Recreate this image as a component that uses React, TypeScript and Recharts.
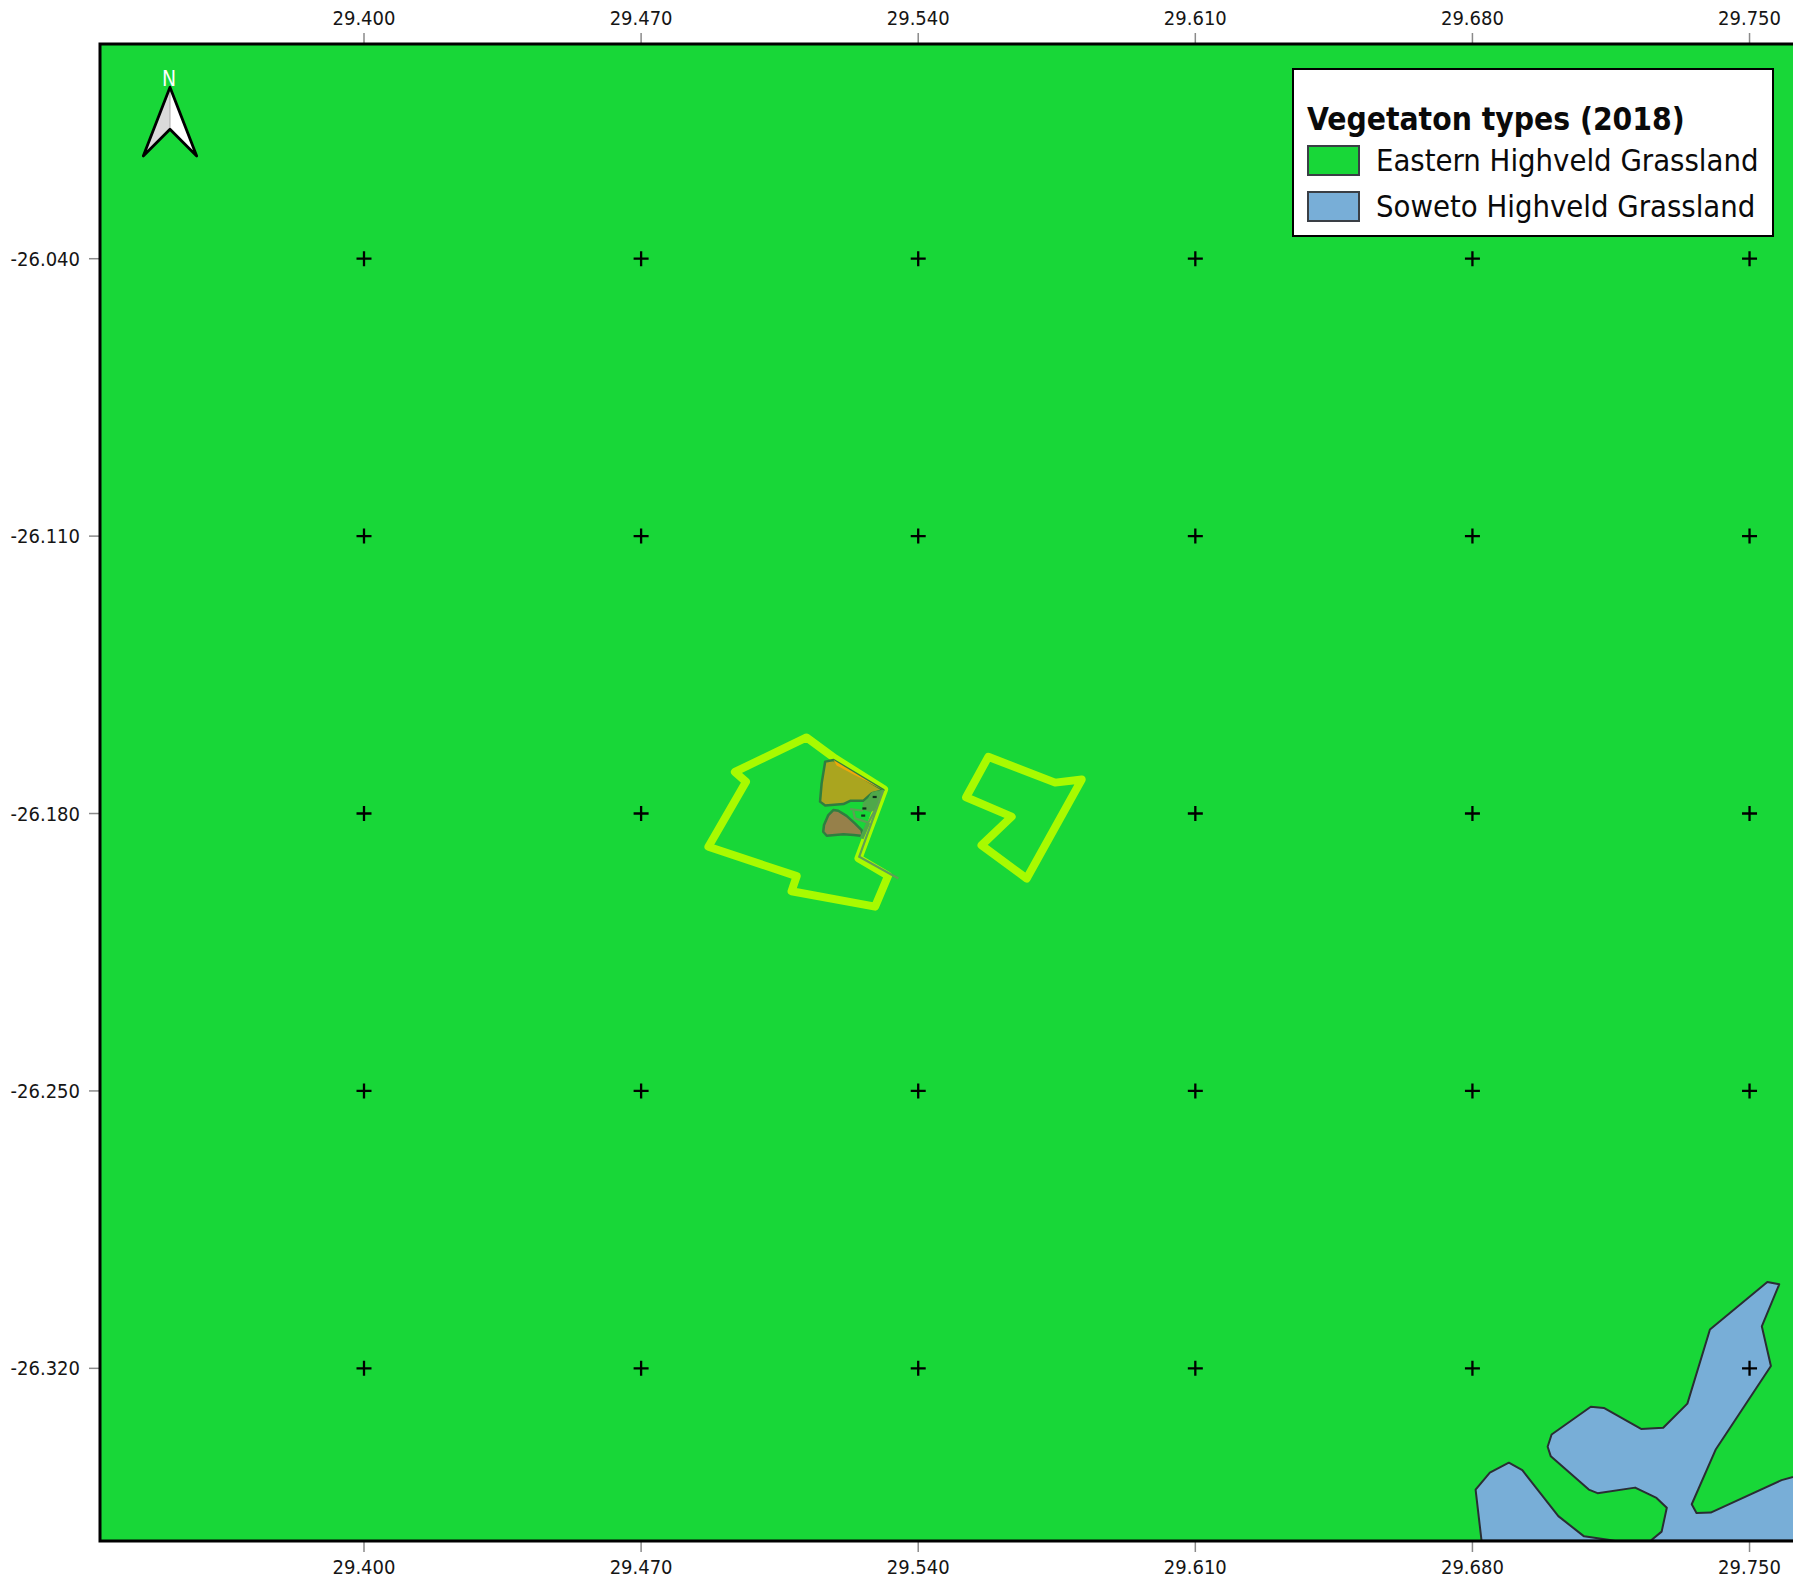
import React from 'react';
import { ScatterChart, Scatter, XAxis, YAxis, Legend } from 'recharts';

type Pt = { x: number; y: number };
const pts = (rows: number[][]): Pt[] => rows.map(([x, y]) => ({ x, y }));

const lonTicks = [29.4, 29.47, 29.54, 29.61, 29.68, 29.75];
const latTicks = [-26.04, -26.11, -26.18, -26.25, -26.32];
const lonDomain: [number, number] = [29.33331, 29.76098];
const latDomain: [number, number] = [-26.36357, -25.98582];

const legendTitle = 'Vegetaton types (2018)';
const legendNames = ['Eastern Highveld Grassland', 'Soweto Highveld Grassland'];
const legendColors = ['#18d738', '#78aed7'];

const eastern = pts([[29.33331, -25.98582], [29.76098, -25.98582], [29.76098, -26.36357], [29.33331, -26.36357]]);
const soweto = pts([
  [29.76098, -26.3635], [29.6823, -26.3635], [29.6808, -26.3506], [29.6844, -26.3463], [29.6892, -26.3438], [29.6926, -26.3457],
  [29.7017, -26.3573], [29.7082, -26.3624], [29.716, -26.3635], [29.725, -26.3635], [29.7278, -26.3612],
  [29.7291, -26.3552], [29.7265, -26.3527], [29.7211, -26.3501], [29.7116, -26.3515], [29.7094, -26.3506],
  [29.6998, -26.3422], [29.699, -26.3398], [29.7, -26.3367], [29.7099, -26.3297], [29.7132, -26.33],
  [29.7226, -26.3353], [29.7282, -26.335], [29.7343, -26.3289], [29.74, -26.3102], [29.7545, -26.2982],
  [29.7575, -26.2988], [29.7531, -26.3094], [29.7554, -26.3194], [29.7415, -26.3404], [29.7354, -26.3543],
  [29.7366, -26.3565], [29.7402, -26.3564], [29.7581, -26.3482], [29.76098, -26.3474],
]);
const farmWest = pts([
  [29.5118, -26.1608], [29.519, -26.1661], [29.5314, -26.1739], [29.5249, -26.1913], [29.5324, -26.1957],
  [29.5291, -26.2035], [29.508, -26.1996], [29.5093, -26.1958], [29.487, -26.1884], [29.4965, -26.172],
  [29.4937, -26.1695],
]);
const farmEast = pts([
  [29.5577, -26.1657], [29.5746, -26.1722], [29.5813, -26.1714], [29.5674, -26.1964], [29.556, -26.188],
  [29.5636, -26.1808], [29.5521, -26.1759],
]);
const olivePatch = pts([
  [29.5165, -26.1669], [29.5186, -26.1665], [29.5312, -26.1741], [29.5283, -26.1749], [29.5261, -26.1768],
  [29.5228, -26.1768], [29.5211, -26.1776], [29.5165, -26.178], [29.5152, -26.177], [29.5156, -26.1724],
]);
const orangeStrip = pts([[29.5186, -26.1665], [29.5312, -26.1741], [29.5194, -26.1679]]);
const brownPatch = pts([
  [29.5186, -26.1791], [29.5198, -26.1793], [29.5219, -26.1806], [29.524, -26.1825], [29.5257, -26.1842],
  [29.526, -26.1857], [29.5237, -26.1854], [29.5211, -26.1852], [29.5169, -26.1856], [29.516, -26.1846],
  [29.5162, -26.1829], [29.5173, -26.1804],
]);
const greenPatch = pts([
  [29.5274, -26.1762], [29.5283, -26.1747], [29.5312, -26.1741], [29.5299, -26.177], [29.5291, -26.1791],
  [29.5278, -26.1795], [29.5261, -26.1789], [29.5261, -26.1774],
]);
const track = pts([[29.5312, -26.1741], [29.5251, -26.1909], [29.535, -26.1964]]);
const branch = pts([[29.5228, -26.1789], [29.5261, -26.1793]]);
const loop = pts([[29.5236, -26.1793], [29.524, -26.1812], [29.5274, -26.1823], [29.5291, -26.1791]]);
const spur = pts([[29.5274, -26.1823], [29.5257, -26.1863]]);
const blackMarks = pts([[29.529, -26.1758], [29.5264, -26.1787], [29.5261, -26.1805]]);
const frame = pts([[29.76098, -25.98582], [29.33331, -25.98582], [29.33331, -26.36357], [29.76098, -26.36357]]);
const northTip = pts([[29.35099, -25.99675]]);
const crosses: Pt[] = lonTicks.flatMap((x) => latTicks.map((y) => ({ x, y })));

const noShape = () => <g />;
const ring = (closed: boolean, style: React.SVGProps<SVGPathElement>) => (p: any) => {
  const d = p.points.map((q: any, i: number) => `${i ? 'L' : 'M'}${q.x} ${q.y}`).join(' ') + (closed ? ' Z' : '');
  return <path d={d} {...style} />;
};
const crossShape = (p: any) => (
  <path d={`M${p.cx - 7.5} ${p.cy} H${p.cx + 7.5} M${p.cx} ${p.cy - 7.5} V${p.cy + 7.5}`} stroke="#000" strokeWidth={2.3} fill="none" />
);
const markShape = (p: any) => <rect x={p.cx - 2} y={p.cy - 1} width={4} height={2.2} fill="#10301a" />;

const font = '"DejaVu Sans Condensed", "DejaVu Sans", sans-serif';
const tickStyle = { fill: '#151515', fontSize: 20, fontFamily: font, fontStretch: 'condensed' };

const northArrow = (p: any) => (
  <g transform={`translate(${p.cx} ${p.cy})`}>
    <path d="M0 0 L-26.7 68.7 L0 42 Z" fill="#dadada" />
    <path d="M0 0 L26.7 68.7 L0 42 Z" fill="#fff" />
    <path d="M0 0 V42" stroke="#aaa" strokeWidth={1} />
    <path d="M0 0 L-26.7 68.7 L0 42 L26.7 68.7 Z" fill="none" stroke="#000" strokeWidth={2.8} strokeLinejoin="round" />
    <text x={-1} y={-1} textAnchor="middle" fill="#fff" fontSize={21} fontFamily={font} style={{ fontStretch: 'condensed' }}>N</text>
  </g>
);

const LegendBox = () => (
  <div style={{ position: 'relative', width: 482, height: 169, boxSizing: 'border-box', background: '#fff', border: '2.5px solid #000', fontFamily: font, fontStretch: 'condensed', color: '#0a0a0a' }}>
    <div style={{ position: 'absolute', left: 13, top: 29, fontSize: 31.5, lineHeight: '40px', fontWeight: 700, whiteSpace: 'nowrap' }}>{legendTitle}</div>
    {legendNames.map((n, i) => (
      <React.Fragment key={n}>
        <div style={{ position: 'absolute', left: 13, top: 75 + i * 45.5, width: 53, height: 31, boxSizing: 'border-box', background: legendColors[i], border: '2px solid #3a3f45' }} />
        <div style={{ position: 'absolute', left: 82, top: 71 + i * 45.5, fontSize: 30.7, lineHeight: '40px', whiteSpace: 'nowrap' }}>{n}</div>
      </React.Fragment>
    ))}
  </div>
);

export default function App() {
  const axisProps = { type: 'number' as const, dataKey: 'x', domain: lonDomain, ticks: lonTicks, interval: 0 as const, tick: tickStyle, tickSize: 11, tickMargin: 8, axisLine: false, tickLine: { stroke: '#8a8a8a', strokeWidth: 1.5 }, tickFormatter: (v: number) => v.toFixed(3) };
  const s = { isAnimationActive: false, shape: noShape, xAxisId: 'top', yAxisId: 'left' };
  return (
    <div style={{ position: 'absolute', left: 0, top: 0, width: 1793, height: 1580, background: '#fff' }}>
      <ScatterChart width={1793} height={1580} margin={{ top: 0, right: 0, bottom: 0, left: 0 }}>
        <XAxis {...axisProps} xAxisId="top" orientation="top" height={44} />
        <XAxis {...axisProps} xAxisId="bottom" orientation="bottom" height={39} />
        <YAxis yAxisId="left" type="number" dataKey="y" width={100} domain={latDomain} ticks={latTicks} interval={0} tick={tickStyle} tickSize={11} tickMargin={9} axisLine={false} tickLine={{ stroke: '#8a8a8a', strokeWidth: 1.5 }} tickFormatter={(v: number) => v.toFixed(3)} />
        <Legend layout="vertical" align="center" verticalAlign="middle" wrapperStyle={{ left: 1292, top: 68, width: 482, height: 169 }} content={LegendBox} />

        <Scatter {...s} name={legendNames[0]} data={eastern} line={ring(true, { fill: legendColors[0], stroke: 'none' })} />
        <Scatter {...s} name={legendNames[1]} data={soweto} line={ring(false, { fill: legendColors[1], stroke: '#2a2d33', strokeWidth: 2, strokeLinejoin: 'round' })} />
        <Scatter {...s} name="Site west" data={farmWest} line={ring(true, { fill: 'none', stroke: '#a8fb00', strokeWidth: 8, strokeLinejoin: 'round' })} />
        <Scatter {...s} name="Site east" data={farmEast} line={ring(true, { fill: 'none', stroke: '#a8fb00', strokeWidth: 8, strokeLinejoin: 'round' })} />
        <Scatter {...s} name="Olive patch" data={olivePatch} line={ring(true, { fill: '#aaa51f', stroke: '#2f7d40', strokeWidth: 2.5, strokeLinejoin: 'round' })} />
        <Scatter {...s} name="Orange strip" data={orangeStrip} line={ring(true, { fill: '#f0a808', stroke: 'none' })} />
        <Scatter {...s} name="Brown patch" data={brownPatch} line={ring(true, { fill: '#96804a', stroke: '#2f7d40', strokeWidth: 2.5, strokeLinejoin: 'round' })} />
        <Scatter {...s} name="Green patch" data={greenPatch} line={ring(true, { fill: '#4fa84a', stroke: '#4fa84a', strokeWidth: 1 })} />
        <Scatter {...s} name="Track" data={track} line={ring(false, { fill: 'none', stroke: '#5f9f55', strokeWidth: 2.2 })} />
        <Scatter {...s} name="Branch" data={branch} line={ring(false, { fill: 'none', stroke: '#5f9f55', strokeWidth: 2.2 })} />
        <Scatter {...s} name="Loop" data={loop} line={ring(false, { fill: 'none', stroke: '#5f9f55', strokeWidth: 2.2 })} />
        <Scatter {...s} name="Spur" data={spur} line={ring(false, { fill: 'none', stroke: '#4fa84a', strokeWidth: 4 })} />
        <Scatter isAnimationActive={false} xAxisId="top" yAxisId="left" name="Marks" data={blackMarks} shape={markShape} />
        <Scatter isAnimationActive={false} xAxisId="top" yAxisId="left" name="Graticule" data={crosses} shape={crossShape} />
        <Scatter {...s} xAxisId="bottom" name="Frame" data={frame} line={ring(false, { fill: 'none', stroke: '#000', strokeWidth: 3 })} />
        <Scatter isAnimationActive={false} xAxisId="top" yAxisId="left" name="North arrow" data={northTip} shape={northArrow} />
      </ScatterChart>
    </div>
  );
}
